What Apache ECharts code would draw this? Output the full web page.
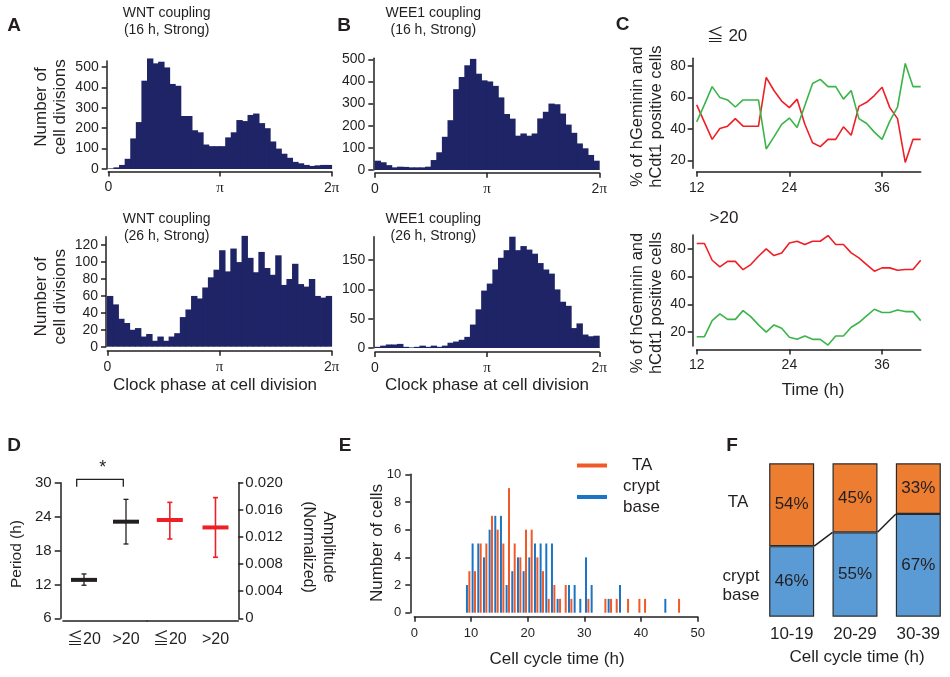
<!DOCTYPE html>
<html><head><meta charset="utf-8">
<script src="https://cdn.jsdelivr.net/npm/echarts@6/dist/echarts.min.js"></script>
<style>html,body{margin:0;padding:0;background:#fff}#c{width:950px;height:677px}</style>
</head><body><div id="c"></div>
<script>
// ---------- DATA ----------
// Panel A/B: histograms, 40 phase bins over [0, 2π]
const wntStrong16  = [3,8,20,50,150,230,433,542,518,526,498,417,408,260,260,190,180,120,112,112,112,155,180,240,235,265,272,225,200,135,100,75,55,35,28,20,15,18,20,20];
const wee1Strong16 = [42,35,22,12,15,14,12,12,12,15,45,80,150,225,365,420,473,502,435,405,400,380,328,253,232,155,165,155,165,233,263,300,297,255,205,168,120,98,68,42];
const wntStrong26  = [60,50,33,28,20,22,12,15,7,12,7,12,16,35,44,60,57,70,82,91,114,89,116,100,131,105,88,112,93,85,108,73,80,98,74,71,80,60,58,60];
const wee1Strong26 = [2,4,6,6,7,2,1,2,4,2,4,2,4,9,11,14,19,40,66,98,110,134,154,167,190,167,174,168,161,145,134,127,100,79,72,34,42,23,20,21];
const phaseTicks = [0, Math.PI, 2 * Math.PI];
const ticksA16 = [0,100,200,300,400,500];
const ticksA26 = [0,20,40,60,80,100,120];
const ticksB26 = [0,50,100,150];

// Panel C: time courses (h)
const hours = [12,13,14,15,16,17,18,19,20,21,22,23,24,25,26,27,28,29,30,31,32,33,34,35,36,37,38,39,40,41];
const le20Red   = [55.4,44.4,33.4,40.3,41.8,46.6,41.8,41.8,41.8,72.9,64.5,57.8,53.6,59,43,31.3,28.8,33.4,33.4,41.4,36,54.4,57,61.3,66.6,53.6,46.6,18.7,33.4,33.4];
const le20Green = [44.5,55.5,67,60,58.5,54,58.5,58.5,58.5,27.3,35,43,47,41,55,69,71.6,67,67,59,64.5,46.6,43.5,38,33.4,45,54,81.7,67,67];
const gt20Red   = [83.9,83.9,71.8,67,71,71,65,68.7,74.7,80,75.2,77.1,84.3,85.5,83.1,85.5,85.5,89.6,83.1,83.1,77.1,73.5,68.7,63.9,66.3,66.3,64.6,65.1,65.1,71.8];
const gt20Green = [16.7,16.7,28.3,33.1,29.2,29.2,35.5,31.2,25.2,20,25.2,22.8,16.3,14.8,17.2,14.8,14.8,10.7,17.2,17.2,23.5,26.9,31.7,36.5,34.1,34.1,36,34.8,34.8,28.3];
const timeTicks = [12,24,36];
const pctTicks = [20,40,60,80];

// Panel D
const dGroups = ['≦20','>20'];
const periodMean = [12.8, 23.1];
const periodLo   = [11.85, 19.15];
const periodHi   = [13.85, 27.05];
const ampMean = [0.0145, 0.0134];
const ampLo   = [0.0117, 0.0090];
const ampHi   = [0.0171, 0.0178];
const ampTicks = [0,0.004,0.008,0.012,0.016,0.02];

// Panel E: cell cycle time bins (h)
const eBins    = [9,10,11,12,13,14,15,16,17,18,19,20,21,22,23,24,25,26,27,28,29,30,31,33,34,35,36,37,39,40,44,46];
const eTA      = [3,3,5,5,7,6,5,9,5,4,6,6,4,3,1,2,1,2,1,0,0,1,0,1,1,1,0,1,1,1,0,1];
const eCrypt   = [2,5,5,4,6,7,7,2,3,4,3,4,5,5,5,5,1,0,2,2,1,4,2,0,1,0,2,0,0,0,1,0];

// Panel F
const fBins  = ['10-19','20-29','30-39'];
const fTA    = [54,45,33];
const fCrypt = [46,55,67];

// ---------- STYLE ----------
const FONT = '"Liberation Sans", Arial, Helvetica, "Noto Sans CJK JP", sans-serif';
const INK = '#231f20';
const NAVY = '#1e2466';
const RED = '#ee1f26';
const GREEN = '#3bb449';
const ORANGE_E = '#f05a28';
const BLUE_E = '#1c75c4';
const ORANGE_F = '#ed7d31';
const BLUE_F = '#5b9bd5';

const line = {show:true, onZero:false, lineStyle:{color:INK, width:1.5}};
function tick(vals, len){ return {show:true, length:len||5, lineStyle:{color:INK, width:1.5}, customValues: vals}; }
function lab(vals, margin, size, extra){ return Object.assign({customValues: vals, margin: margin, fontSize: size, color: INK, fontFamily: FONT}, extra||{}); }

const grids = [
  {left:108.3, top:60.9, width:223.4, height:108.1},   // 0 A top
  {left:107.3, top:236.7, width:224.4, height:110},    // 1 A bottom
  {left:375, top:58.2, width:224.3, height:111.8},     // 2 B top
  {left:375, top:236.7, width:224.3, height:111.3},    // 3 B bottom
  {left:696.7, top:58.3, width:224, height:110},       // 4 C top
  {left:696.7, top:235, width:224, height:111},        // 5 C bottom
  {left:63, top:482.7, width:84, height:135.6},        // 6 D period
  {left:147, top:482.7, width:91.3, height:135.6},     // 7 D amplitude
  {left:414.3, top:474.3, width:283.4, height:138.4},  // 8 E
  {left:760, top:463.3, width:201, height:153.4}       // 9 F
];

function phaseX(gi, off){
  return {type:'value', gridIndex:gi, min:0, max:2*Math.PI, offset:off, axisLine:line, axisTick:tick(phaseTicks,5),
    axisLabel: lab(phaseTicks, 9, 14, {formatter: v => v < 0.5 ? '0' : (v < 4 ? '{p|π}' : '2{p|π}'),
      rich:{p:{fontFamily:'"Liberation Serif", serif', fontSize:15, color:INK}}}),
    splitLine:{show:false}};
}
function binX(gi, arr){
  return {type:'category', gridIndex:gi, data: arr.map((v,i)=>String(i)), show:false, boundaryGap:true};
}
function countY(gi, max, vals, off){
  return {type:'value', gridIndex:gi, min:0, max:max, offset:off, axisLine:line, axisTick:tick(vals,5),
    axisLabel: lab(vals, 8, 14), splitLine:{show:false}};
}
// histogram bins drawn through the category/value scales; neighbouring rects overlap by 0.5px to avoid seams
function hist(gi, xi, arr){
  return {type:'custom', xAxisIndex:xi, yAxisIndex:gi, silent:true,
    data: arr.map((v,i)=>[i, v]), encode:{x:0, y:1},
    renderItem: function(p, api){
      const top = api.coord([api.value(0), api.value(1)]);
      const sz = api.size([1, api.value(1)]);
      return {type:'rect', shape:{x: top[0]-sz[0]/2-0.4, y: top[1], width: sz[0]+0.8, height: sz[1]},
        style:{fill:NAVY}};
    }};
}
function timeX(gi){
  return {type:'value', gridIndex:gi, min:12, max:41, offset:3.4, axisLine:line, axisTick:tick(timeTicks,5),
    axisLabel: lab(timeTicks, 9, 14), splitLine:{show:false}};
}
function pctY(gi, mn, mx){
  return {type:'value', gridIndex:gi, min:mn, max:mx, offset:4, axisLine:line, axisTick:tick(pctTicks,5),
    axisLabel: lab(pctTicks, 7, 14), splitLine:{show:false}};
}
function trace(gi, arr, color){
  return {type:'line', xAxisIndex:gi, yAxisIndex:gi, silent:true, showSymbol:false, symbol:'none',
    data: hours.map((h,i)=>[h, arr[i]]), lineStyle:{color:color, width:1.6}, itemStyle:{color:color}};
}
function errRender(color, lw){
  return function(params, api){
    const c = api.coord([api.value(0), api.value(1)]);
    const lo = api.coord([api.value(0), api.value(2)]);
    const hi = api.coord([api.value(0), api.value(3)]);
    const half = 13, cap = 2.5;
    return {type:'group', children:[
      {type:'line', shape:{x1:c[0], y1:lo[1], x2:c[0], y2:hi[1]}, style:{stroke:color, lineWidth:lw}},
      {type:'line', shape:{x1:c[0]-cap, y1:lo[1], x2:c[0]+cap, y2:lo[1]}, style:{stroke:color, lineWidth:lw}},
      {type:'line', shape:{x1:c[0]-cap, y1:hi[1], x2:c[0]+cap, y2:hi[1]}, style:{stroke:color, lineWidth:lw}},
      {type:'rect', shape:{x:c[0]-half, y:c[1]-2, width:2*half, height:4}, style:{fill:color}}
    ]};
  };
}
function catX(gi){
  return {type:'category', gridIndex:gi, data:dGroups, offset:2.4, axisLine:line, axisTick:{show:false},
    axisLabel:{interval:0, margin:11, fontSize:16, color:INK, fontFamily:FONT}};
}

function txt(x, y, text, o){
  o = o || {};
  return {type:'text', x:x, y:y, rotation:o.rot||0, silent:true, z:100,
    style:{text:text, fill:INK, fontSize:o.size||17, fontFamily:FONT, fontWeight:o.weight||'normal',
      align:o.align||'center', verticalAlign:'middle', lineHeight:o.lh||Math.round((o.size||17)*1.15)}};
}

const option = {
  animation:false,
  backgroundColor:'#fff',
  textStyle:{fontFamily:FONT},
  grid: grids.map(g => Object.assign({containLabel:false}, g)),
  xAxis: [
    phaseX(0, 2.5), phaseX(1, 4), phaseX(2, 2.7), phaseX(3, 4),
    timeX(4), timeX(5),
    catX(6), catX(7),
    {type:'value', gridIndex:8, min:0, max:50, interval:10, offset:4, axisLine:line, axisTick:{show:true,length:5,lineStyle:{color:INK,width:1.5}},
      axisLabel:{margin:10, fontSize:13, color:INK, fontFamily:FONT}, splitLine:{show:false}},
    {type:'category', gridIndex:9, data:fBins, axisLine:{show:false}, axisTick:{show:false},
      axisLabel:{margin:9, fontSize:17, color:INK, fontFamily:FONT}},
    binX(0, wntStrong16), binX(1, wntStrong26), binX(2, wee1Strong16), binX(3, wee1Strong26)
  ],
  yAxis: [
    countY(0, 530, ticksA16, 1.6),
    countY(1, 130, ticksA26, 1.3),
    countY(2, 505, ticksA16, 1.7),
    countY(3, 190, ticksB26, 1.7),
    pctY(4, 15, 85),
    pctY(5, 10, 90),
    {type:'value', gridIndex:6, min:6, max:30, interval:6, offset:2.3, axisLine:line,
      axisTick:{show:true,length:6,lineStyle:{color:INK,width:1.5}},
      axisLabel:{margin:9, fontSize:15, color:INK, fontFamily:FONT}, splitLine:{show:false}},
    {type:'value', gridIndex:7, position:'right', min:0, max:0.02, offset:0, axisLine:line,
      axisTick:tick(ampTicks,5),
      axisLabel: lab(ampTicks, 7, 15, {formatter: v => v === 0 ? '0' : v.toFixed(3)}), splitLine:{show:false}},
    {type:'value', gridIndex:8, min:0, max:10, interval:2, offset:4, axisLine:line,
      axisTick:{show:true,length:5,lineStyle:{color:INK,width:1.5}},
      axisLabel:{margin:9, fontSize:13, color:INK, fontFamily:FONT}, splitLine:{show:false}},
    {type:'value', gridIndex:9, min:0, max:100, show:false}
  ],
  legend: {
    data:['TA','crypt base'], orient:'vertical', left:577, top:455, padding:0, itemWidth:30, itemHeight:4, icon:'rect',
    itemGap:0, selectedMode:false,
    formatter: n => n === 'TA' ? '{t|TA}' : '{c|crypt}\n{c|base}',
    textStyle:{fontSize:17, color:INK, fontFamily:FONT, lineHeight:21,
      rich:{t:{fontSize:17, color:INK, fontFamily:FONT, lineHeight:21, padding:[0,0,0,20]},
            c:{fontSize:17, color:INK, fontFamily:FONT, lineHeight:21, padding:[0,0,0,11]}}}
  },
  series: [
    hist(0, 10, wntStrong16), hist(1, 11, wntStrong26), hist(2, 12, wee1Strong16), hist(3, 13, wee1Strong26),
    trace(4, le20Red, RED), trace(4, le20Green, GREEN),
    trace(5, gt20Red, RED), trace(5, gt20Green, GREEN),
    {type:'custom', xAxisIndex:6, yAxisIndex:6, silent:true, renderItem: errRender(INK, 1.3), encode:{x:0, y:1},
      data: dGroups.map((g,i)=>[i, periodMean[i], periodLo[i], periodHi[i]])},
    {type:'custom', xAxisIndex:7, yAxisIndex:7, silent:true, renderItem: errRender(RED, 1.6), encode:{x:0, y:1},
      data: dGroups.map((g,i)=>[i, ampMean[i], ampLo[i], ampHi[i]])},
    {name:'crypt base', type:'bar', xAxisIndex:8, yAxisIndex:8, silent:true, barWidth:2, barGap:'20%',
      itemStyle:{color:BLUE_E}, data: eBins.map((b,i)=>[b+0.5, eCrypt[i]])},
    {name:'TA', type:'bar', xAxisIndex:8, yAxisIndex:8, silent:true, barWidth:2, barGap:'20%',
      itemStyle:{color:ORANGE_E}, data: eBins.map((b,i)=>[b+0.5, eTA[i]])},
    {name:'F crypt', type:'bar', stack:'f', xAxisIndex:9, yAxisIndex:9, silent:true, barWidth:45,
      itemStyle:{color:BLUE_F, borderColor:'#2a2a2a', borderWidth:1.2},
      label:{show:true, position:'inside', formatter:'{c}%', fontSize:17, color:INK, fontFamily:FONT}, data:fCrypt},
    {name:'F TA', type:'bar', stack:'f', xAxisIndex:9, yAxisIndex:9, silent:true, barWidth:45,
      itemStyle:{color:ORANGE_F, borderColor:'#2a2a2a', borderWidth:1.2},
      label:{show:true, position:'inside', formatter:'{c}%', fontSize:17, color:INK, fontFamily:FONT}, data:fTA},
    {type:'custom', xAxisIndex:9, yAxisIndex:9, silent:true, z:5, encode:{x:0, y:1},
      data: fCrypt.map((v,i)=>[i, v, i < fCrypt.length-1 ? fCrypt[i+1] : v]),
      renderItem: function(p, api){
        const i = api.value(0);
        if (i >= fCrypt.length - 1) return {type:'group', children:[]};
        const a = api.coord([i, api.value(1)]);
        const b = api.coord([i+1, api.value(2)]);
        const hw = 22.5;
        return {type:'line', shape:{x1:a[0]+hw, y1:a[1], x2:b[0]-hw, y2:b[1]}, style:{stroke:INK, lineWidth:1.5}};
      }}
  ],
  graphic: [
    txt(14, 26, 'A', {size:19, weight:'bold'}),
    txt(344, 26, 'B', {size:19, weight:'bold'}),
    txt(622.5, 25, 'C', {size:19, weight:'bold'}),
    txt(14, 446, 'D', {size:19, weight:'bold'}),
    txt(345, 446, 'E', {size:19, weight:'bold'}),
    txt(732, 446, 'F', {size:19, weight:'bold'}),
    txt(166.7, 21.7, 'WNT coupling\n(16 h, Strong)', {size:14, lh:17}),
    txt(433.3, 21.7, 'WEE1 coupling\n(16 h, Strong)', {size:14, lh:17}),
    txt(166.7, 227.7, 'WNT coupling\n(26 h, Strong)', {size:14, lh:17}),
    txt(433.3, 227.7, 'WEE1 coupling\n(26 h, Strong)', {size:14, lh:17}),
    txt(51, 107, 'Number of\ncell divisions', {size:17, lh:19, rot:Math.PI/2}),
    txt(51, 296.7, 'Number of\ncell divisions', {size:17, lh:19, rot:Math.PI/2}),
    txt(215, 385, 'Clock phase at cell division', {size:17}),
    txt(487, 385, 'Clock phase at cell division', {size:17}),
    txt(647, 116.7, '% of hGeminin and\nhCdt1 positive cells', {size:16.5, lh:18.7, rot:Math.PI/2}),
    txt(647, 303, '% of hGeminin and\nhCdt1 positive cells', {size:16.5, lh:18.7, rot:Math.PI/2}),
    txt(727, 36, '≦ 20', {size:17}),
    txt(724, 218, '>20', {size:17}),
    txt(813, 390, 'Time (h)', {size:17}),
    txt(17, 554, 'Period (h)', {size:15.5, rot:Math.PI/2}),
    txt(318, 547, 'Amplitude\n(Normalized)', {size:16, lh:20, rot:-Math.PI/2}),
    {type:'polyline', silent:true, z:100, shape:{points:[[76.7,486.7],[76.7,479.3],[123.3,479.3],[123.3,486.7]]},
      style:{stroke:INK, lineWidth:1.3, fill:null}},
    txt(102.7, 468, '*', {size:18}),
    txt(377, 543, 'Number of cells', {size:17, rot:Math.PI/2}),
    txt(557, 659, 'Cell cycle time (h)', {size:17}),
    txt(738, 502, 'TA', {size:17}),
    txt(741, 586, 'crypt\nbase', {size:17, lh:18.5}),
    txt(857, 657, 'Cell cycle time (h)', {size:17})
  ]
};

const chart = echarts.init(document.getElementById('c'), null, {renderer:'canvas', width:950, height:677});
chart.setOption(option);
</script>
</body></html>
